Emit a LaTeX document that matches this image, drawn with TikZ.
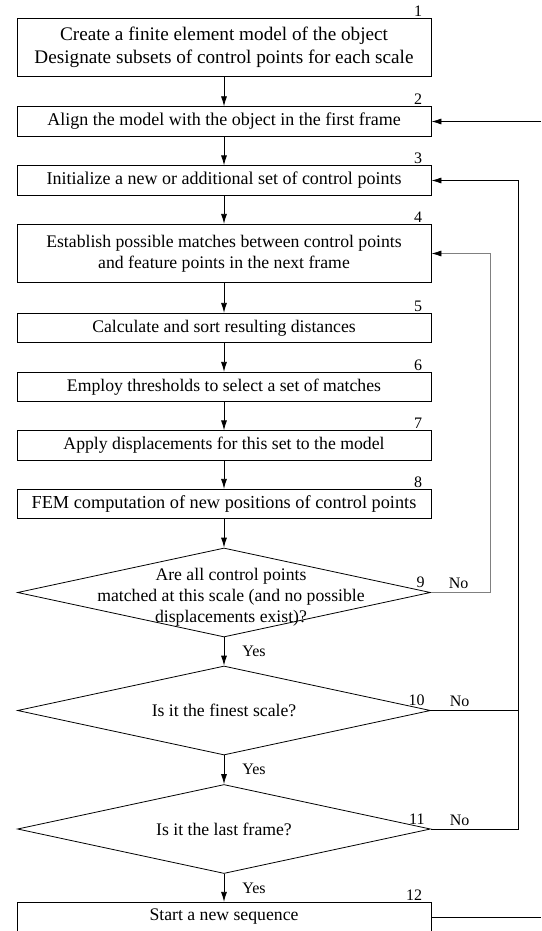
\documentclass[tikz,border=0pt]{standalone}
\usepackage{fontspec}
\setmainfont{Liberation Serif}
\usetikzlibrary{arrows.meta,shapes.geometric}

\begin{document}
\begin{tikzpicture}[x=1pt,y=-1pt,>={Latex[length=10pt,width=6pt]},line width=0.8pt,
		box/.style={draw,rectangle,minimum width=414pt,minimum height=29.5pt,inner sep=0pt,align=center,font=\fontsize{17.7}{21.5}\selectfont},
		decision/.style={draw,diamond,minimum width=413pt,minimum height=89pt,inner sep=0pt},
		qtext/.style={align=center,font=\fontsize{17.7}{21}\selectfont},
		tag/.style={font=\fontsize{16}{18}\selectfont,inner sep=0pt}]
				\useasboundingbox (0,0) rectangle (541,931);
				%\draw[help lines] (0,0) grid (541,931);
				\node[box,minimum height=58.5pt,font=\fontsize{19.2}{23}\selectfont] (b1) at (224,47.5) {Create a finite element model of the object\\Designate subsets of control points for each scale};
				\node[box,font=\fontsize{18}{21}\selectfont] (b2) at (224,121.5) {Align the model with the object in the first frame};
				\node[box,font=\fontsize{18}{21}\selectfont] (b3) at (224,180.5) {Initialize a new or additional set of control points};
				\node[box,minimum height=58.5pt] (b4) at (224,253.5) {Establish possible matches between control points\\and feature points in the next frame};
				\node[box] (b5) at (224,328) {Calculate and sort resulting distances};
				\node[box] (b6) at (224,387) {Employ thresholds to select a set of matches};
				\node[box] (b7) at (224,445.5) {Apply displacements for this set to the model};
				\node[box,font=\fontsize{18.3}{21}\selectfont] (b8) at (224,504) {FEM computation of new positions of control points};
				\node[decision] (q9) at (224,592.5) {};
				\node[qtext] (q9t) at (231,597.5) {Are all control points\\matched at this scale (and no possible\\displacements exist)?};
				\node[decision] (q10) at (224,710.5) {};
				\node[qtext] (q10t) at (q10) {Is it the finest scale?};
				\node[decision] (q11) at (224,829) {};
				\node[qtext] (q11t) at (q11) {Is it the last frame?};
				\node[box] (b12) at (224,917) {Start a new sequence};

				% step numbers
				\foreach \n in {1,...,8,12}
					\node[tag,anchor=south east] at ([xshift=-9pt,yshift=1pt]b\n.north east) {\n};
				\foreach \n in {9,10,11}
					\node[tag,anchor=south east] at ([xshift=-6pt,yshift=4pt]q\n.east) {\n};

				% main flow
				\foreach \a/\b in {b1/b2,b2/b3,b3/b4,b4/b5,b5/b6,b6/b7,b7/b8,b8/q9}
					\draw[->] (\a) -- (\b);
				\draw[->] (q9) -- (q10) node [pos=0.5, right=18pt, tag] {Yes};
				\draw[->] (q10) -- (q11) node [pos=0.5, right=18pt, tag] {Yes};
				\draw[->] (q11) -- (b12) node [pos=0.5, right=18pt, tag] {Yes};

				% loops back
				\coordinate (nxt) at (490,592.5);
				\coordinate (scl) at (518,710.5);
				\coordinate (seqin) at (541,121.5);
				\coordinate (seqout) at (541,917);
				\draw[-{Latex[length=10pt,width=6pt,black]},gray] (q9.east) -- (nxt) node [pos=0.47, above=3pt, tag, black] {No} |- (b4.east);
				\draw (q10.east) -- (scl) node [pos=0.33, above=3pt, tag] {No};
				\draw[->] (q11.east) -- (q11.east -| scl) node [pos=0.33, above=3pt, tag] {No} |- (b3.east);
				\draw (b12.east) -- (seqout);
				\draw[->] (seqin) -- (b2.east);
			\end{tikzpicture}
\end{document}
